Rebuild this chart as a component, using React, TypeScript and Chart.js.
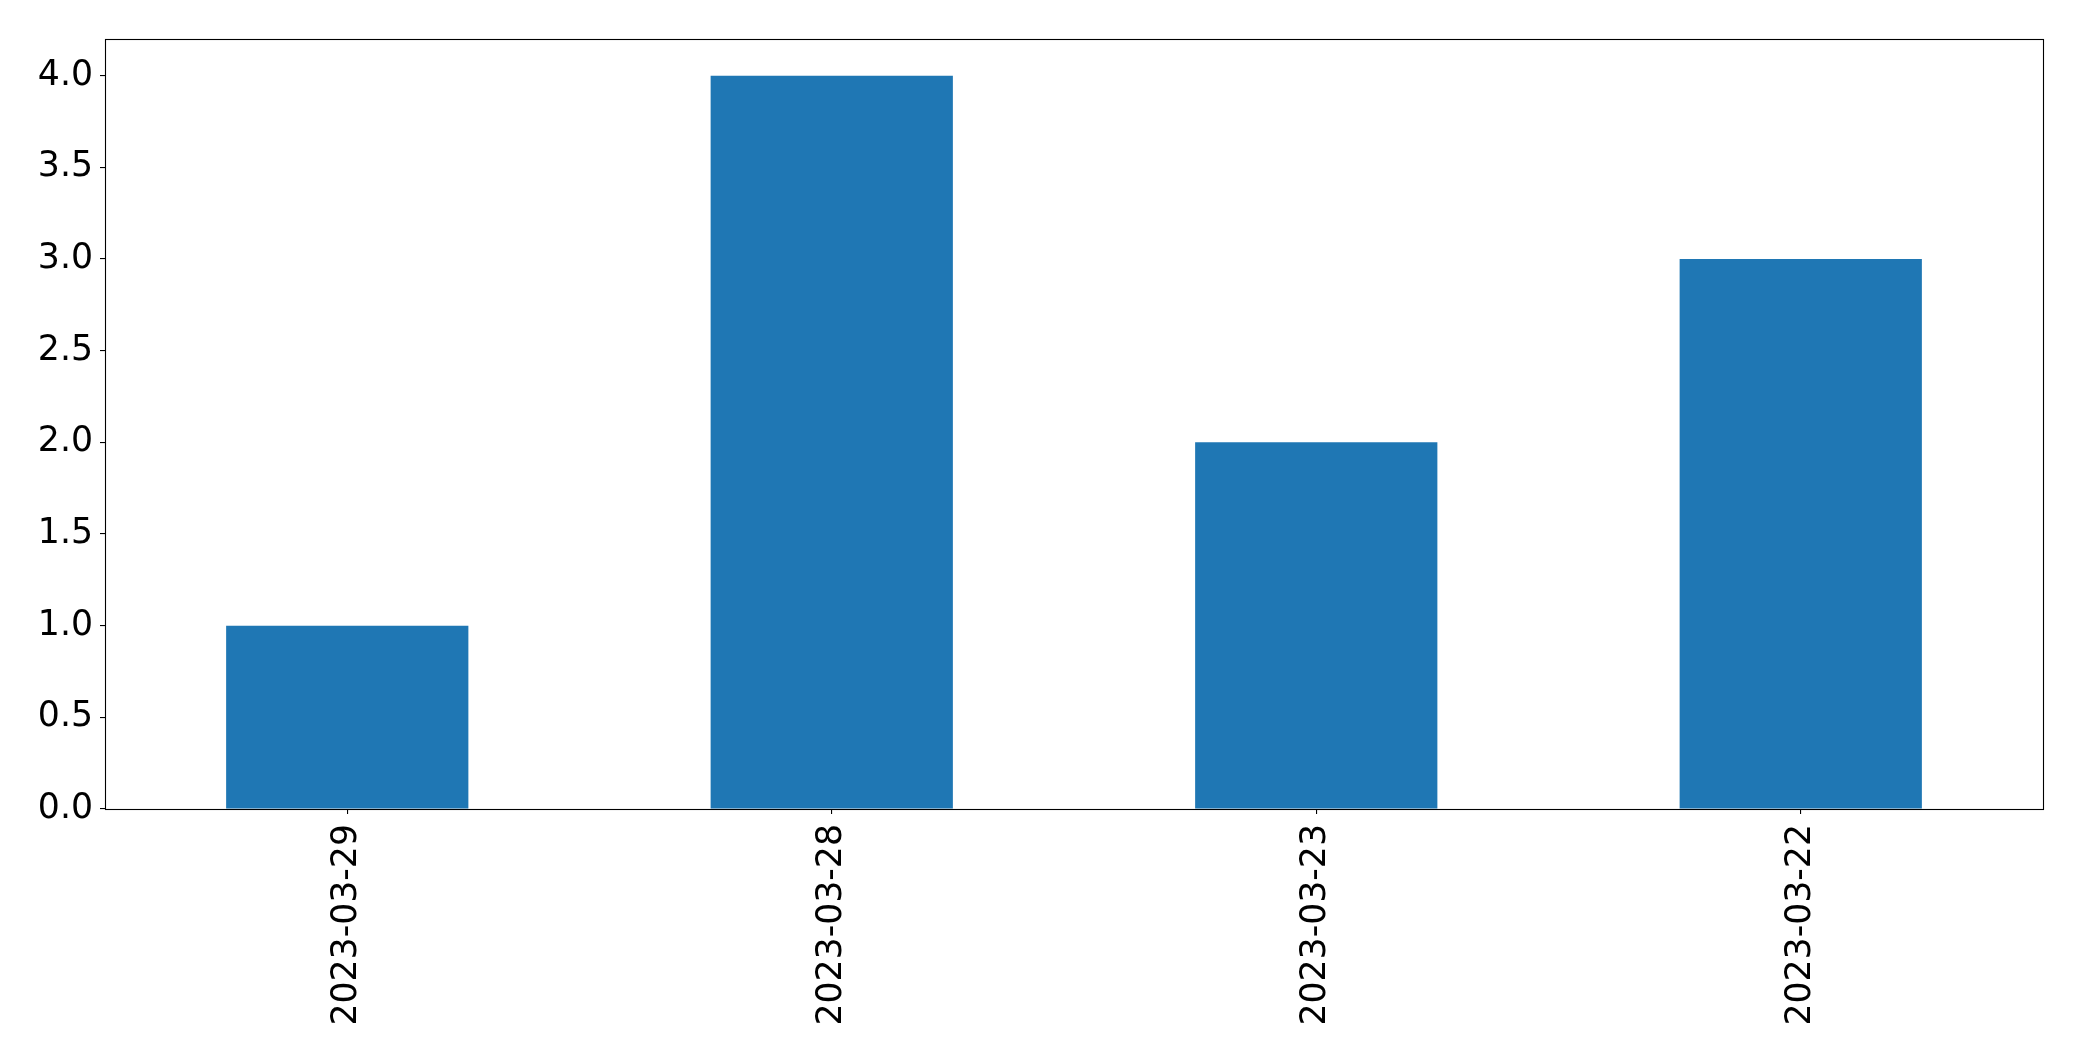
import React, { useEffect, useRef } from "react";
import { Chart, registerables } from "chart.js";

Chart.register(...registerables);

const categories = ["2023-03-29", "2023-03-28", "2023-03-23", "2023-03-22"];
const values = [1, 4, 2, 3];
const yMin = 0;
const yMax = 4.2;
const yStep = 0.5;

const W = 2082;
const H = 1061;
const FONT = { family: "'DejaVu Sans', sans-serif", size: 34.7 };

const framePlugin = {
  id: "frame",
  afterDraw(chart: any) {
    const { ctx, chartArea } = chart;
    ctx.save();
    ctx.strokeStyle = "#000";
    ctx.lineWidth = 1.1;
    ctx.strokeRect(
      Math.round(chartArea.left) + 0.5,
      Math.round(chartArea.top) + 0.5,
      Math.round(chartArea.right - chartArea.left),
      Math.round(chartArea.bottom - chartArea.top)
    );
    ctx.restore();
  },
};

export default function App() {
  const ref = useRef<HTMLCanvasElement>(null);
  useEffect(() => {
    if (!ref.current) return;
    const chart = new Chart(ref.current, {
      type: "bar",
      data: {
        labels: categories,
        datasets: [
          {
            data: values,
            backgroundColor: "#1f77b4",
            borderWidth: 0,
            barPercentage: 0.5,
            categoryPercentage: 1,
          },
        ],
      },
      options: {
        responsive: false,
        animation: false,
        devicePixelRatio: 1,
        layout: { padding: { top: 39, right: 39, left: 0, bottom: 0 } },
        plugins: { legend: { display: false }, tooltip: { enabled: false } },
        scales: {
          x: {
            offset: true,
            border: { display: false },
            grid: {
              offset: false,
              drawOnChartArea: false,
              drawTicks: true,
              tickLength: 5,
              color: "#000",
              lineWidth: 1.1,
            },
            ticks: {
              color: "#000",
              font: FONT,
              minRotation: 90,
              maxRotation: 90,
              padding: 10,
              autoSkip: false,
            },
            afterFit: (scale: any) => {
              scale.height = H - 809;
            },
          },
          y: {
            min: yMin,
            max: yMax,
            border: { display: false },
            grid: {
              drawOnChartArea: false,
              drawTicks: true,
              tickLength: 5,
              color: "#000",
              lineWidth: 1.1,
            },
            ticks: {
              stepSize: yStep,
              includeBounds: false,
              color: "#000",
              font: FONT,
              padding: 7,
              callback: (v: any) => Number(v).toFixed(1),
            },
            afterFit: (scale: any) => {
              scale.width = 105;
            },
          },
        },
      },
      plugins: [framePlugin],
    });
    return () => chart.destroy();
  }, []);
  return (
    <div style={{ position: "fixed", left: 0, top: 0, width: W, height: H, background: "#fff" }}>
      <canvas ref={ref} width={W} height={H} style={{ display: "block", width: W, height: H }} />
    </div>
  );
}
